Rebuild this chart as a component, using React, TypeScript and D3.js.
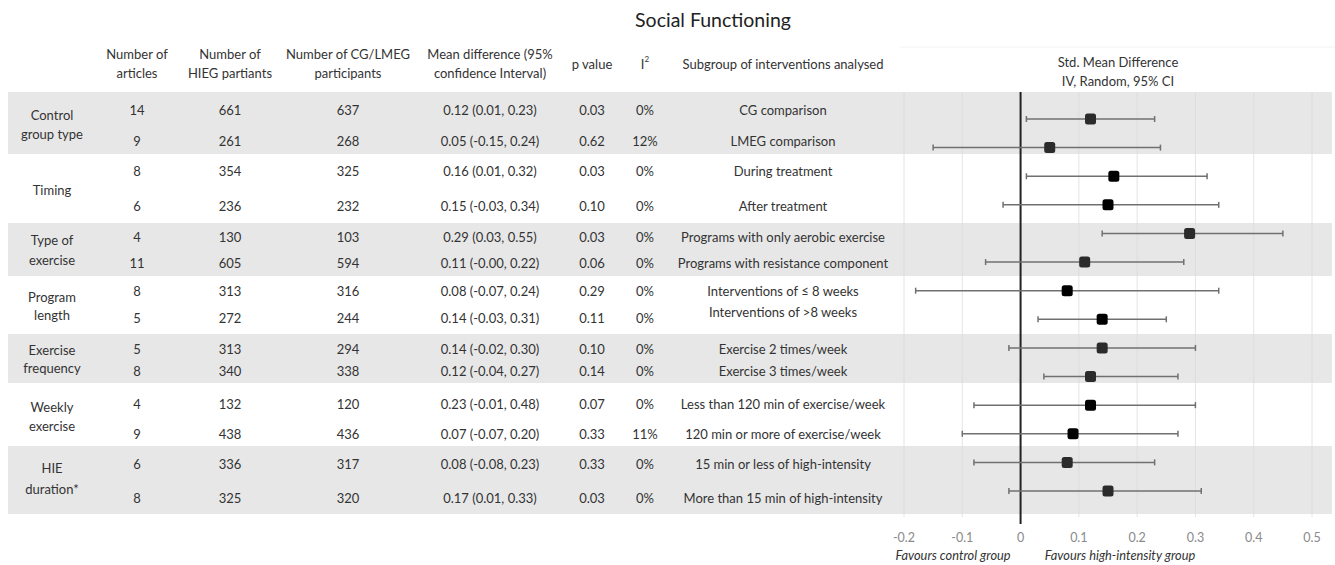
import React, { useEffect } from 'react';
import * as d3 from 'd3';

// Table data
const groupLabels: string[][] = [
    ['Control', 'group type'],
    ['Timing'],
    ['Type of', 'exercise'],
    ['Program', 'length'],
    ['Exercise', 'frequency'],
    ['Weekly', 'exercise'],
    ['HIE', 'duration*'],
];
const articles = [14, 9, 8, 6, 4, 11, 8, 5, 5, 8, 4, 9, 6, 8];
const hiegN = [661, 261, 354, 236, 130, 605, 313, 272, 313, 340, 132, 438, 336, 325];
const cgN = [637, 268, 325, 232, 103, 594, 316, 244, 294, 338, 120, 436, 317, 320];
const meanDiffText = [
    '0.12 (0.01, 0.23)', '0.05 (-0.15, 0.24)', '0.16 (0.01, 0.32)', '0.15 (-0.03, 0.34)',
    '0.29 (0.03, 0.55)', '0.11 (-0.00, 0.22)', '0.08 (-0.07, 0.24)', '0.14 (-0.03, 0.31)',
    '0.14 (-0.02, 0.30)', '0.12 (-0.04, 0.27)', '0.23 (-0.01, 0.48)', '0.07 (-0.07, 0.20)',
    '0.08 (-0.08, 0.23)', '0.17 (0.01, 0.33)',
];
const pValues = ['0.03', '0.62', '0.03', '0.10', '0.03', '0.06', '0.29', '0.11', '0.10', '0.14', '0.07', '0.33', '0.33', '0.03'];
const i2Values = ['0%', '12%', '0%', '0%', '0%', '0%', '0%', '0%', '0%', '0%', '0%', '11%', '0%', '0%'];
const subgroups = [
    'CG comparison', 'LMEG comparison', 'During treatment', 'After treatment',
    'Programs with only aerobic exercise', 'Programs with resistance component',
    'Interventions of ≤ 8 weeks', 'Interventions of >8 weeks',
    'Exercise 2 times/week', 'Exercise 3 times/week',
    'Less than 120 min of exercise/week', '120 min or more of exercise/week',
    '15 min or less of high-intensity', 'More than 15 min of high-intensity',
];

// Forest plot data (as drawn)
const smd = [0.12, 0.05, 0.16, 0.15, 0.29, 0.11, 0.08, 0.14, 0.14, 0.12, 0.12, 0.09, 0.08, 0.15];
const ciLow = [0.01, -0.15, 0.01, -0.03, 0.14, -0.06, -0.18, 0.03, -0.02, 0.04, -0.08, -0.10, -0.08, -0.02];
const ciHigh = [0.23, 0.24, 0.32, 0.34, 0.45, 0.28, 0.34, 0.25, 0.30, 0.27, 0.30, 0.27, 0.23, 0.31];
const xTicks = [-0.2, -0.1, 0, 0.1, 0.2, 0.3, 0.4, 0.5];

// Layout
const width = 1335;
const height = 565;
const font = 'Lato, "Open Sans", sans-serif';
const fs = 13;
const textColor = '#333';
const bandColor = '#e7e7e7';
const bandEdges = [92, 154, 223, 276, 334, 383, 446, 514];
const rowTextY = [110, 141, 171, 206, 237, 263, 291, 318, 349, 371, 404, 434, 464, 498];
const subgroupTextY = rowTextY.map((y, i) => (i === 7 ? 312 : y));
const groupLineY = [[115, 134], [190], [240, 260], [297, 315], [350, 368], [407, 426], [468, 489]];
const cols = { group: 52, articles: 137, hieg: 230, cg: 348, mean: 490, p: 592, i2: 645, sub: 783 };

const App: React.FC = () => {
    useEffect(() => {
        document.body.style.margin = '0';
    }, []);

    const x = d3.scaleLinear().domain([-0.2, 0.5]).range([904, 1312]);
    const rows = d3.range(smd.length);
    const y = d3.scalePoint<number>().domain(rows).range([119, 491]);

    const txt = (tx: number, ty: number, s: string, key: string) => (
        <text key={key} x={tx} y={ty} textAnchor="middle" dominantBaseline="central"
            fontFamily={font} fontSize={fs} fill={textColor}>{s}</text>
    );

    const headers: [number, string[], number[]][] = [
        [cols.articles, ['Number of', 'articles'], [54, 73]],
        [cols.hieg, ['Number of', 'HIEG partiants'], [54, 73]],
        [cols.cg, ['Number of CG/LMEG', 'participants'], [54, 73]],
        [cols.mean, ['Mean difference (95%', 'confidence Interval)'], [54, 73]],
        [cols.p, ['p value'], [64]],
        [cols.sub, ['Subgroup of interventions analysed'], [64]],
        [1118, ['Std. Mean Difference', 'IV, Random, 95% CI'], [62, 81]],
    ];

    return (
        <svg width={width} height={height} style={{ display: 'block', background: '#fff' }}>
            <text x={713} y={19} textAnchor="middle" dominantBaseline="central" fontFamily={font}
                fontSize={19.5} fill="#222">Social Functioning</text>

            {/* Headers */}
            {headers.map(([hx, lines, ys], i) =>
                lines.map((l, j) => txt(hx, ys[j], l, `h${i}-${j}`)))}
            <text x={cols.i2} y={64} textAnchor="middle" dominantBaseline="central" fontFamily={font}
                fontSize={fs} fill={textColor}>I<tspan fontSize={8} dy={-5}>2</tspan></text>
            <line x1={900} x2={1335} y1={47} y2={47} stroke="#f2f2f2" />

            {/* Bands */}
            {groupLabels.map((_, g) => (
                <rect key={`b${g}`} x={8} y={bandEdges[g]} width={1324}
                    height={bandEdges[g + 1] - bandEdges[g]} fill={g % 2 === 0 ? bandColor : '#fff'} />
            ))}

            {/* Grid */}
            {xTicks.filter(t => t !== 0).map(t => (
                <line key={`g${t}`} x1={x(t)} x2={x(t)} y1={92} y2={517} stroke="#d9d9d9" strokeOpacity={0.7} />
            ))}

            {/* Group labels */}
            {groupLabels.map((lines, g) => lines.map((l, j) => txt(cols.group, groupLineY[g][j], l, `gl${g}-${j}`)))}

            {/* Table rows */}
            {rows.map(i => (
                <g key={`r${i}`}>
                    {txt(cols.articles, rowTextY[i], String(articles[i]), 'a')}
                    {txt(cols.hieg, rowTextY[i], String(hiegN[i]), 'h')}
                    {txt(cols.cg, rowTextY[i], String(cgN[i]), 'c')}
                    {txt(cols.mean, rowTextY[i], meanDiffText[i], 'm')}
                    {txt(cols.p, rowTextY[i], pValues[i], 'p')}
                    {txt(cols.i2, rowTextY[i], i2Values[i], 'i')}
                    {txt(cols.sub, subgroupTextY[i], subgroups[i], 's')}
                </g>
            ))}

            {/* Zero line */}
            <line x1={x(0)} x2={x(0)} y1={92} y2={524} stroke="#222" strokeWidth={2} />

            {/* Forest marks */}
            {rows.map(i => {
                const cy = y(i)!;
                return (
                    <g key={`f${i}`}>
                        <line x1={x(ciLow[i])} x2={x(ciHigh[i])} y1={cy} y2={cy} stroke="#707070" strokeWidth={1.5} />
                        <line x1={x(ciLow[i])} x2={x(ciLow[i])} y1={cy - 3} y2={cy + 3} stroke="#707070" strokeWidth={1.5} />
                        <line x1={x(ciHigh[i])} x2={x(ciHigh[i])} y1={cy - 3} y2={cy + 3} stroke="#707070" strokeWidth={1.5} />
                        <rect x={x(smd[i]) - 5.5} y={cy - 5.5} width={11} height={11} rx={2.5}
                            fill={Math.floor(i / 2) % 2 === 0 ? '#2b2b2b' : '#000'} />
                    </g>
                );
            })}

            {/* Axis labels */}
            {xTicks.map(t => (
                <text key={`t${t}`} x={x(t)} y={537} textAnchor="middle" dominantBaseline="central"
                    fontFamily={font} fontSize={12.5} fill="#8a8a8a">{`${+t.toFixed(1)}`}</text>
            ))}
            <text x={953} y={555} textAnchor="middle" dominantBaseline="central" fontFamily={font}
                fontSize={12.8} fontStyle="italic" fill={textColor}>Favours control group</text>
            <text x={1120} y={555} textAnchor="middle" dominantBaseline="central" fontFamily={font}
                fontSize={12.8} fontStyle="italic" fill={textColor}>Favours high-intensity group</text>
        </svg>
    );
};

export default App;
